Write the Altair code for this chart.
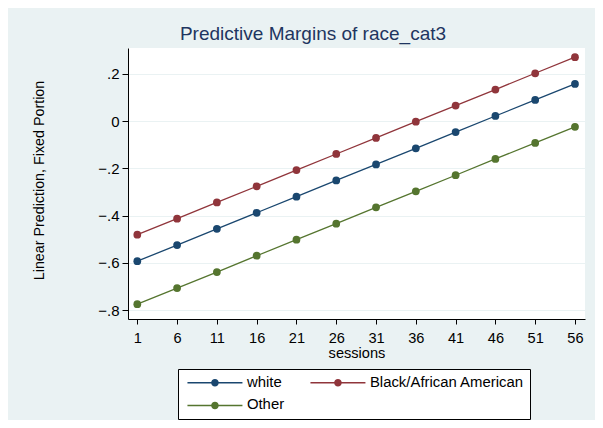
import altair as alt
import pandas as pd

sessions = [1, 6, 11, 16, 21, 26, 31, 36, 41, 46, 51, 56]
white = [-0.593, -0.525, -0.456, -0.388, -0.320, -0.251, -0.183, -0.115, -0.046, 0.022, 0.090, 0.158]
black = [-0.481, -0.413, -0.344, -0.276, -0.207, -0.139, -0.071, -0.002, 0.066, 0.134, 0.203, 0.271]
other = [-0.775, -0.707, -0.639, -0.570, -0.502, -0.434, -0.365, -0.297, -0.229, -0.160, -0.092, -0.024]
groups = ["white", "Black/African American", "Other"]
colors = ["#1a476f", "#90353b", "#55752f"]
y_ticks = [-0.8, -0.6, -0.4, -0.2, 0, 0.2]

rows = []
for g, vals in zip(groups, [white, black, other]):
    for s, v in zip(sessions, vals):
        rows.append({"sessions": s, "margin": v, "group": g})
df = pd.DataFrame(rows)

FONT = "Liberation Sans"
sym_path = ("M-1,-0.17H12.75V0.17H-1Z "
            "M6.825,0A0.95,0.95,0,1,1,4.925,0A0.95,0.95,0,1,1,6.825,0Z")

legend = alt.Legend(
    title=None, orient="none", legendX=50, legendY=321, direction="horizontal",
    columns=2, columnPadding=22, rowPadding=7, padding=6,
    fillColor="white", strokeColor="black", cornerRadius=0,
    symbolType=sym_path, symbolSize=64, symbolStrokeWidth=0,
    symbolOpacity=1,
    labelFont=FONT, labelFontSize=14.9, labelColor="black",
    labelOffset=48, labelLimit=400,
    labelExpr="datum.label == 'Black/African American' ? datum.label + '\u00a0\u00a0\u00a0\u00a0\u00a0' : datum.label",
)

color = alt.Color("group:N", scale=alt.Scale(domain=groups, range=colors), legend=legend)
x = alt.X("sessions:Q",
          scale=alt.Scale(domain=[-0.17, 57.26], nice=False, zero=False),
          axis=alt.Axis(values=sessions, title="sessions", grid=False,
                        tickSize=5, labelPadding=6, labelFontSize=14.6,
                        titleX=228.5, titleY=38, titleBaseline="alphabetic",
                        titleFontSize=14.6))
y = alt.Y("margin:Q",
          scale=alt.Scale(domain=[-0.838, 0.31], nice=False, zero=False),
          axis=alt.Axis(values=y_ticks, title="Linear Prediction, Fixed Portion",
                        labelExpr="datum.value == 0 ? '0' : replace(format(datum.value, '.1f'), '0.', '.')",
                        grid=True, gridColor="#EAF2F3", gridWidth=1,
                        tickSize=6, labelPadding=3, labelFontSize=15,
                        titleAngle=270, titleX=-85, titleY=132,
                        titleBaseline="alphabetic", titleAlign="center",
                        titleFontSize=14.3))

lines = alt.Chart(df).mark_line(strokeWidth=1.3).encode(x=x, y=y, color=color)
points = alt.Chart(df).mark_point(filled=True, size=60, opacity=1).encode(x=x, y=y, color=color)

chart = alt.layer(lines, points).properties(
    width=457, height=271,
    title=alt.TitleParams("Predictive Margins of race_cat3", fontSize=19, font=FONT,
                          fontWeight="normal", color="#1e3560", anchor="middle",
                          frame="group", dx=-43.5, dy=18, offset=7, baseline="alphabetic"),
    padding={"left": 120, "top": 40, "right": 10, "bottom": 101},
    autosize=alt.AutoSizeParams(type="none"),
    background="#EAF2F3",
).configure_view(fill="white", stroke=None).configure_axis(
    domainColor="black", tickColor="black", labelColor="black", titleColor="black",
    labelFont=FONT, titleFont=FONT, titleFontWeight="normal", domainWidth=1, tickWidth=1,
)

chart.save("out.html", embed_options={"renderer": "svg", "actions": False})
